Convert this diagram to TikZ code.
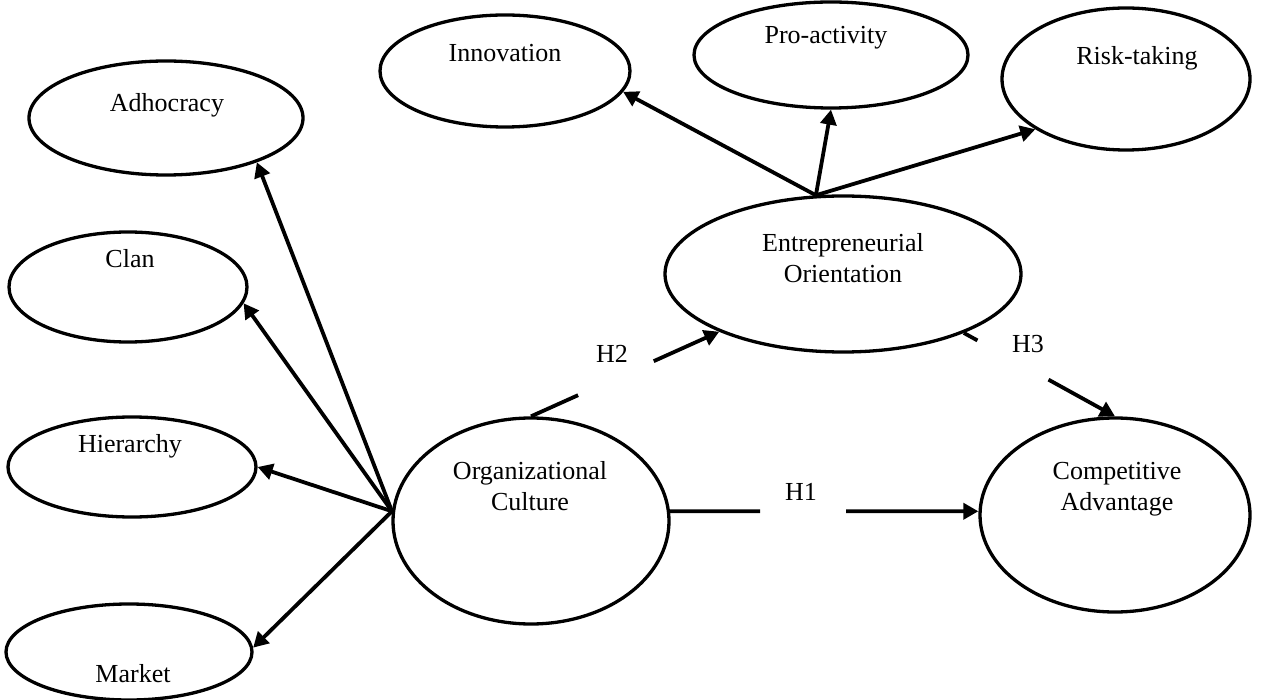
\documentclass[tikz,border=0pt]{standalone}
\usepackage{fontspec}
\setmainfont{Liberation Serif}
\usetikzlibrary{arrows.meta,shapes.geometric,calc}
\begin{document}
\begin{tikzpicture}[x=1pt,y=-1pt,
  bub/.style={draw, ellipse, line width=3.3pt, inner sep=0pt},
  lbl/.style={font=\fontsize{26}{31}\selectfont, align=center, inner sep=0pt, anchor=base},
  hlbl/.style={font=\fontsize{26}{31}\selectfont, inner sep=0pt, anchor=center},
  arr/.style={line width=3.8pt, -{Triangle[length=15pt,width=16pt]}},
  seg/.style={line width=3.8pt}]
\fill[white] (0,0) rectangle (1277,700);
\useasboundingbox (0,0) rectangle (1277,700);
% ellipses
\node[bub, minimum width=250pt, minimum height=112pt] (inno) at (505,71) {};
\node[bub, minimum width=274pt, minimum height=106pt] (pro) at (831,55) {};
\node[bub, minimum width=248pt, minimum height=142pt] (risk) at (1126,79) {};
\node[bub, minimum width=274pt, minimum height=114pt] (adho) at (166,118) {};
\node[bub, minimum width=238pt, minimum height=110pt] (clan) at (128,287) {};
\node[bub, minimum width=248pt, minimum height=100pt] (hier) at (132,467) {};
\node[bub, minimum width=246pt, minimum height=96pt] (mark) at (129,652) {};
\node[bub, minimum width=276pt, minimum height=206pt] (oc) at (531,521) {};
\node[bub, minimum width=356pt, minimum height=156pt] (eo) at (843,274) {};
\node[bub, minimum width=270pt, minimum height=194pt] (ca) at (1115,515) {};
% texts
\node[lbl] (tinno) at (505,62) {Innovation};
\node[lbl] (tpro) at (826,44) {Pro-activity};
\node[lbl] (trisk) at (1137,65) {Risk-taking};
\node[lbl] (tadho) at (167,112) {Adhocracy};
\node[lbl] (tclan) at (130,268) {Clan};
\node[lbl] (thier) at (130,452) {Hierarchy};
\node[lbl] (tmark) at (133,682) {Market};
\node[lbl] (teo) at (843,283) {Entrepreneurial\\Orientation};
\node[lbl] (toc) at (530,510) {Organizational\\Culture};
\node[lbl] (tca) at (1117,510) {Competitive\\Advantage};
% fan arrows
\draw[arr] (oc.176) -- (adho.-26);
\draw[arr] (oc.176) -- (clan.-8);
\draw[arr] (oc.176) -- (hier.0);
\draw[arr] (oc.176) -- (mark.2);
\draw[arr] (eo.109) -- (inno.-10);
\draw[arr] (eo.109) -- (pro.270);
\draw[arr] (eo.109) -- (risk.209);
% H2
\coordinate (h2a) at ($(oc.90)!0.25!(eo.205)$);
\coordinate (h2b) at ($(oc.90)!0.652!(eo.205)$);
\draw[seg] (oc.90) -- (h2a);
\draw[arr] (h2b) -- (eo.205);
\node[hlbl] (lh2) at (612,354) {H2};
% H3
\coordinate (h3a) at ($(eo.-26.4)!0.09!(ca.90)$);
\coordinate (h3b) at ($(eo.-26.4)!0.56!(ca.90)$);
\draw[seg] (eo.-26.4) -- (h3a);
\draw[arr] (h3b) -- (ca.90);
\node[hlbl] (lh3) at (1028,344) {H3};
% H1
\coordinate (h1s) at (oc.4);
\coordinate (h1e) at (ca.west |- h1s);
\coordinate (h1a) at ($(h1s)!0.292!(h1e)$);
\coordinate (h1b) at ($(h1s)!0.571!(h1e)$);
\draw[seg] (h1s) -- (h1a);
\draw[arr] (h1b) -- (h1e);
\node[hlbl] (lh1) at (801,492) {H1};
\end{tikzpicture}
\end{document}
